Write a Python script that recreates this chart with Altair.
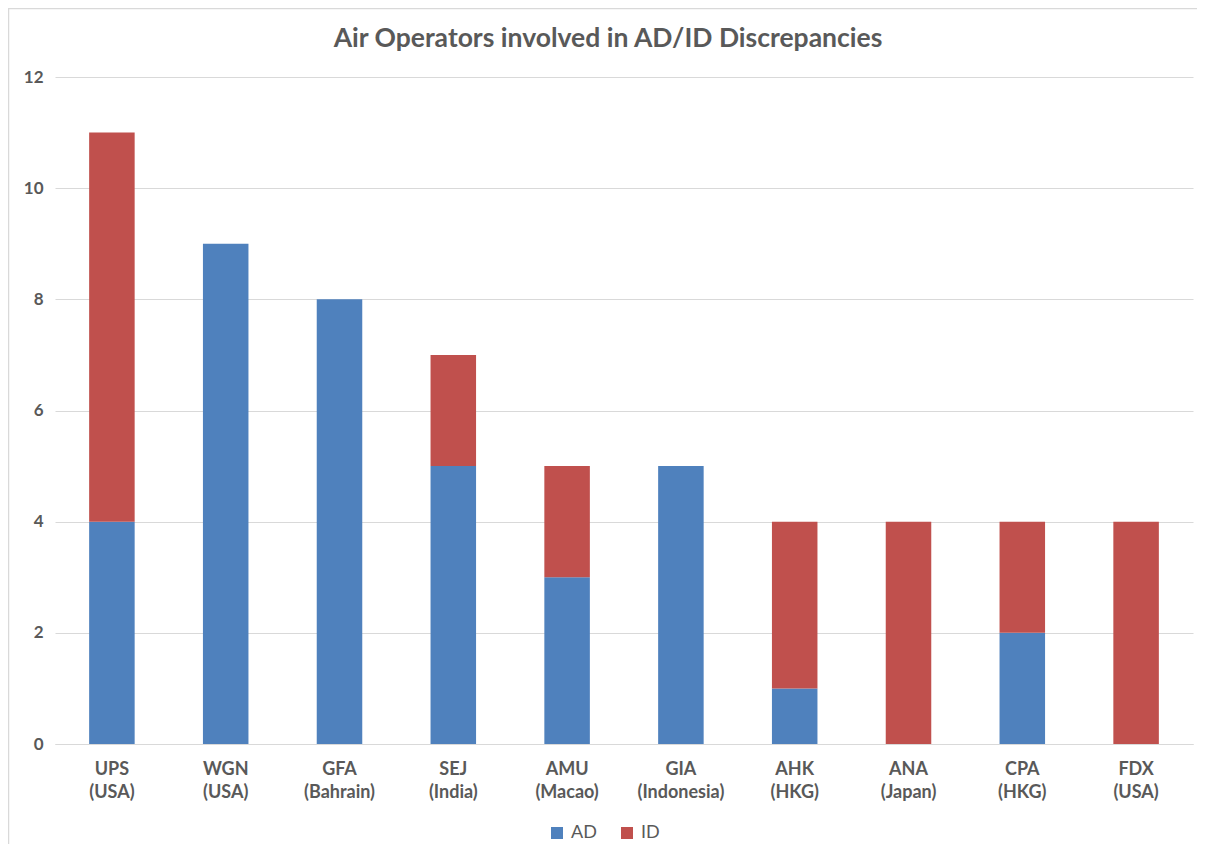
import altair as alt
import pandas as pd

operators = ["UPS|(USA)", "WGN|(USA)", "GFA|(Bahrain)", "SEJ|(India)", "AMU|(Macao)",
             "GIA|(Indonesia)", "AHK|(HKG)", "ANA|(Japan)", "CPA|(HKG)", "FDX|(USA)"]
ad_values = [4, 9, 8, 5, 3, 5, 1, 0, 2, 0]
id_values = [7, 0, 0, 2, 2, 0, 3, 4, 2, 4]
series = ["AD", "ID"]
colors = ["#4F81BD", "#C0504D"]
y_ticks = [0, 2, 4, 6, 8, 10, 12]

rows = []
for op, a, i in zip(operators, ad_values, id_values):
    rows.append({"operator": op, "type": "AD", "value": a, "ord": 0})
    rows.append({"operator": op, "type": "ID", "value": i, "ord": 1})
df = pd.DataFrame(rows)

FONT = "Lato"
LABEL_COLOR = "#595959"

bars = alt.Chart(df).mark_bar().encode(
    x=alt.X("operator:N", sort=operators, title=None,
            scale=alt.Scale(paddingInner=0.6, paddingOuter=0.3),
            axis=alt.Axis(labelExpr="split(datum.label, '|')", labelAngle=0,
                          labelFontSize=18, labelFontWeight="bold", labelColor=LABEL_COLOR,
                          labelFont=FONT, labelLineHeight=23, labelPadding=16,
                          labelBaseline="top",
                          ticks=False, domainColor="#d9d9d9", domainWidth=1, grid=False)),
    y=alt.Y("value:Q", title=None, stack="zero",
            scale=alt.Scale(domain=[0, 12], nice=False),
            axis=alt.Axis(values=y_ticks, labelFontSize=17, labelFontWeight="bold",
                          labelColor=LABEL_COLOR, labelFont=FONT, labelPadding=12,
                          ticks=False, domain=False, gridColor="#d9d9d9", gridWidth=1)),
    color=alt.Color("type:N", scale=alt.Scale(domain=series, range=colors),
                    legend=alt.Legend(title=None, orient="none", legendX=493, legendY=747,
                                      direction="horizontal", symbolType="square",
                                      symbolSize=144, symbolStrokeWidth=0,
                                      labelFontSize=18, labelFont=FONT, labelColor=LABEL_COLOR,
                                      labelOffset=5, columnPadding=21, padding=0)),
    order=alt.Order("ord:Q", sort="ascending"),
)

border = alt.Chart(alt.Data(values=[{}])).mark_rect(
    fill="transparent", stroke="#d9d9d9", strokeWidth=1.5
).encode(
    x=alt.value(-46.5), x2=alt.value(1165), y=alt.value(-68.5), y2=alt.value(820)
)

chart = alt.layer(border, bars).properties(
    width=1138, height=667,
    background="white",
    title=alt.TitleParams("Air Operators involved in AD/ID Discrepancies",
                          fontSize=26.5, font=FONT, fontWeight="bold", color=LABEL_COLOR,
                          anchor="middle", frame="group", baseline="alphabetic",
                          dx=-16, offset=-65.5),
    autosize=alt.AutoSizeParams(type="none"),
    padding={"left": 47, "top": 69, "right": 4, "bottom": 100},
).configure_view(stroke=None)

chart.save("out.html", embed_options={"renderer": "svg", "actions": False})
